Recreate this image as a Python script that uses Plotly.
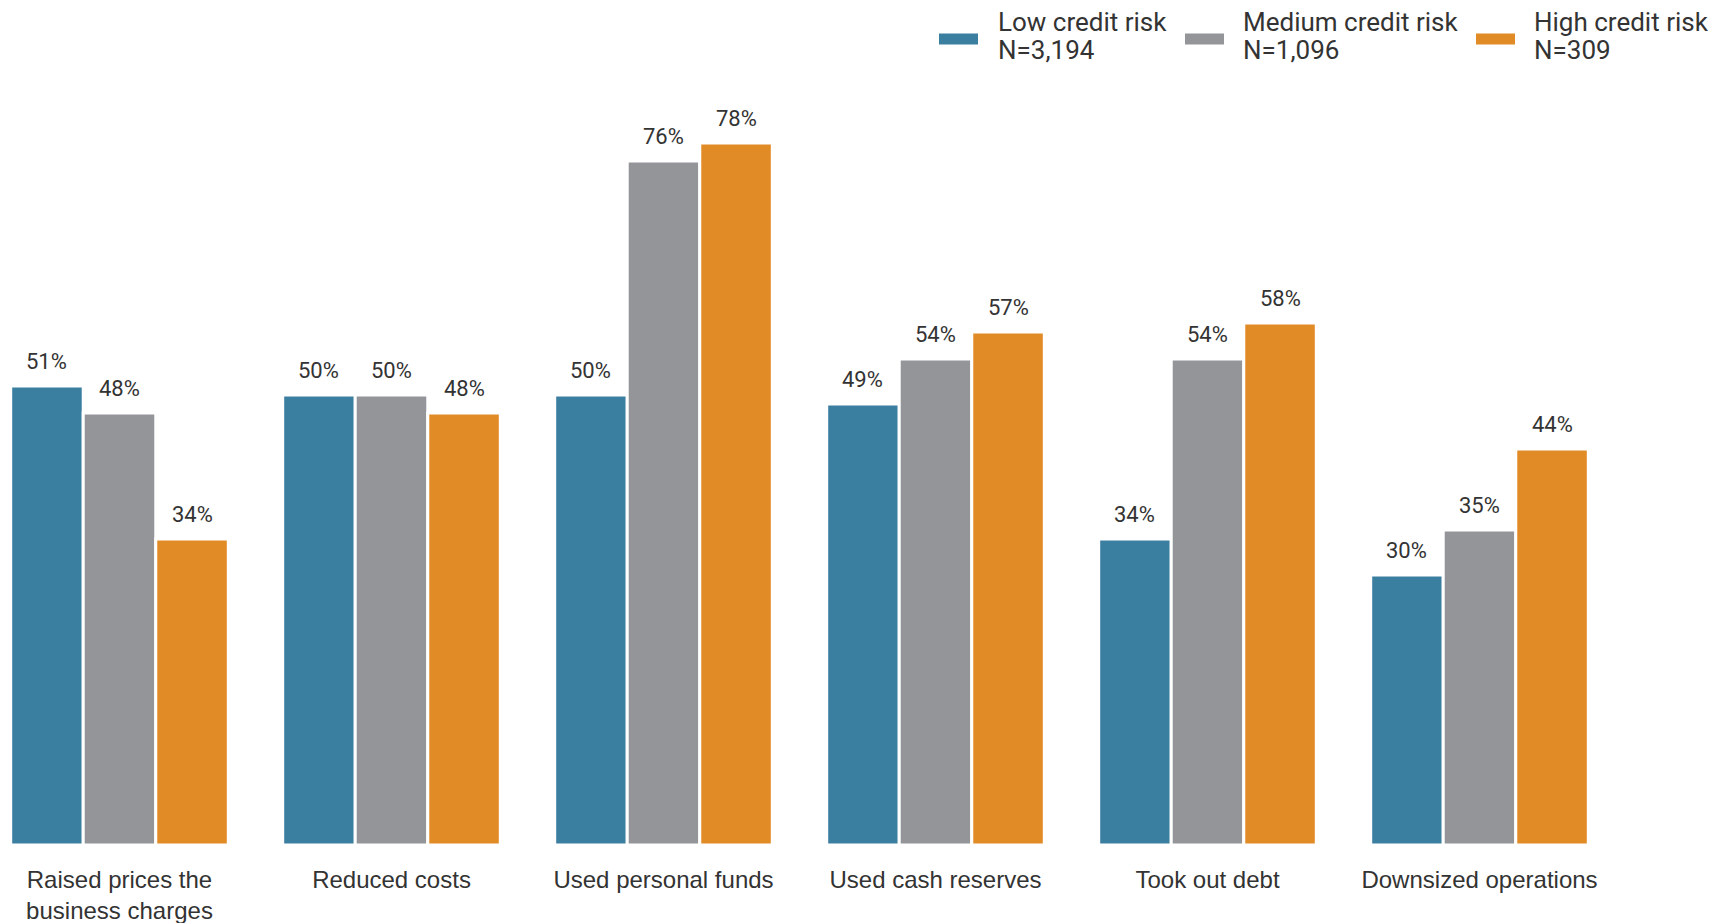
import plotly.graph_objects as go

categories = ["Raised prices the<br>business charges", "Reduced costs", "Used personal funds",
              "Used cash reserves", "Took out debt", "Downsized operations"]
series_names = ["Low credit risk", "Medium credit risk", "High credit risk"]
series_n = ["N=3,194", "N=1,096", "N=309"]
low_vals = [51, 50, 50, 49, 34, 30]
medium_vals = [48, 50, 76, 54, 54, 35]
high_vals = [34, 48, 78, 57, 58, 44]
colors = ["#3A7EA0", "#949599", "#E18B26"]

W, H = 1724, 923
M_B = H - 845
PLOT_H = 720
M_T = H - M_B - PLOT_H
BARGAP = 0.2
VALUE_FONT = dict(family="Roboto, sans-serif", size=22, color="#333333")
LEG_FONT = dict(family="Roboto, sans-serif", size=26, color="#333333")

fig = go.Figure()
all_vals = [low_vals, medium_vals, high_vals]
for name, vals, col in zip(series_names, all_vals, colors):
    fig.add_trace(go.Bar(
        x=categories, y=vals, name=name, showlegend=False,
        marker=dict(color=col, line=dict(color="white", width=3)),
        hoverinfo="x+y",
    ))

# value labels above bars
slot = (1 - BARGAP) / len(all_vals)
for k, vals in enumerate(all_vals):
    off = (k - (len(all_vals) - 1) / 2) * slot
    for i, v in enumerate(vals):
        fig.add_annotation(x=i + off, y=v, xref="x", yref="y", text=f"{v}%",
                           showarrow=False, yanchor="middle", xanchor="center",
                           yshift=25, font=VALUE_FONT)

# custom legend (swatch + two-line label), positions in page pixels
leg_swatch_x = [939, 1185, 1476]
leg_text_x = [996, 1241, 1532]
def px(p):
    return p / W
def py(p):
    return (H - M_B - p) / PLOT_H
for k in range(3):
    fig.add_shape(type="rect", xref="paper", yref="paper",
                  x0=px(leg_swatch_x[k]), x1=px(leg_swatch_x[k] + 39),
                  y0=py(44.5), y1=py(33.5), fillcolor=colors[k], line=dict(width=0))
    fig.add_annotation(x=px(leg_text_x[k]), y=py(22.5), xref="paper", yref="paper",
                       text=series_names[k], showarrow=False, xanchor="left", yanchor="middle",
                       font=LEG_FONT)
    fig.add_annotation(x=px(leg_text_x[k]), y=py(49.5), xref="paper", yref="paper",
                       text=series_n[k], showarrow=False, xanchor="left", yanchor="middle",
                       font=LEG_FONT)

px_per_cat = 272.0
first_center = 119.5
x0 = -first_center / px_per_cat
x1 = x0 + W / px_per_cat

fig.update_layout(
    width=W, height=H,
    margin=dict(l=0, r=0, t=M_T, b=M_B),
    paper_bgcolor="white", plot_bgcolor="white",
    barmode="group", bargap=BARGAP, bargroupgap=0,
    showlegend=False,
    xaxis=dict(range=[x0, x1], showgrid=False, zeroline=False, showline=False,
               ticks="", ticklabelstandoff=18,
               tickfont=dict(family="Liberation Sans, Arial, sans-serif", size=24, color="#333333")),
    yaxis=dict(range=[0, 80], visible=False, showgrid=False, zeroline=False),
)

fig.write_html("out.html", config={"displayModeBar": False},
               post_script="document.body.style.margin='0';")
